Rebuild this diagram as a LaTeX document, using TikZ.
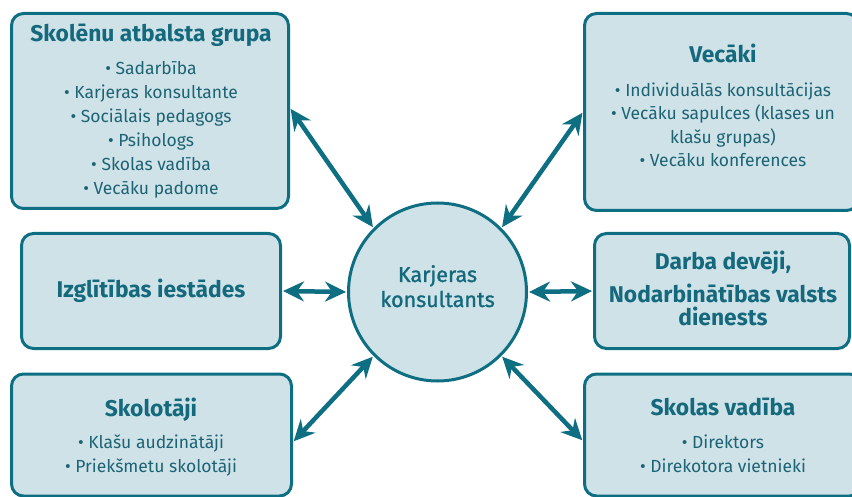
\documentclass[tikz,border=0pt]{standalone}
\usepackage{fontspec}
\setmainfont{Fira Sans}
\newfontfamily\medf{Fira Sans}[FakeBold=1.2]
\usetikzlibrary{arrows.meta}
\definecolor{bordc}{HTML}{0E6E82}
\definecolor{fillc}{HTML}{CFE2E8}
\definecolor{titc}{HTML}{15697D}
\definecolor{itc}{HTML}{1C6374}
\tikzset{
  box/.style={draw=bordc, line width=3pt, fill=fillc, rounded corners=12pt, inner sep=0pt},
  ttl/.style={anchor=base, text=titc, inner sep=0pt, font=\bfseries\fontsize{22.8}{26}\selectfont},
  itm/.style={anchor=base, text=itc, inner sep=0pt, font=\fontsize{17.5}{20}\selectfont},
  conn/.style={draw=bordc, line width=4.5pt, {Stealth[length=21pt,width=20pt,inset=7pt]}-{Stealth[length=21pt,width=20pt,inset=7pt]}, shorten <=1pt, shorten >=1pt}
}
\begin{document}
\begin{tikzpicture}[x=1pt,y=-1pt]
\useasboundingbox (0,0) rectangle (852,497);
% boxes
\node[box, minimum width=277pt, minimum height=195pt] (b1) at (150,111) {};
\node[box, minimum width=274pt, minimum height=197pt] (b2) at (721.5,112) {};
\node[box, minimum width=259pt, minimum height=115pt] (b3) at (151,291) {};
\node[box, minimum width=255pt, minimum height=115pt] (b4) at (722,291) {};
\node[box, minimum width=280pt, minimum height=122pt] (b5) at (151.5,435) {};
\node[box, minimum width=277pt, minimum height=122pt] (b6) at (723,435) {};
\node[draw=bordc, line width=3pt, fill=fillc, circle, minimum size=178pt, inner sep=0pt] (c) at (437.5,292) {};
% texts box1
\node[ttl] (b1t) at (151,42) {Skolēnu atbalsta grupa};
\node[itm] (b1a) at (151,75) {• Sadarbība};
\node[itm] (b1b) at (151,99) {• Karjeras konsultante};
\node[itm] (b1c) at (151,123) {• Sociālais pedagogs};
\node[itm] (b1d) at (151,147) {• Psihologs};
\node[itm] (b1e) at (151,171) {• Skolas vadība};
\node[itm] (b1f) at (151,195) {• Vecāku padome};
% box2
\node[ttl] (b2t) at (723,63) {Vecāki};
\node[itm] (b2a) at (723,97) {• Individuālās konsultācijas};
\node[itm] (b2b) at (723,120) {• Vecāku sapulces (klases un};
\node[itm] (b2c) at (723,144) {klašu grupas)};
\node[itm] (b2d) at (723,167) {• Vecāku konferences};
% box3
\node[ttl] (b3t) at (151,298) {Izglītības iestādes};
% box4
\node[ttl] (b4t) at (723,270) {Darba devēji,};
\node[ttl] (b4u) at (723,302) {Nodarbinātības valsts};
\node[ttl] (b4v) at (723,325) {dienests};
% box5
\node[ttl] (b5t) at (151,416) {Skolotāji};
\node[itm] (b5a) at (151,448) {• Klašu audzinātāji};
\node[itm] (b5b) at (151,472) {• Priekšmetu skolotāji};
% box6
\node[ttl] (b6t) at (723,415) {Skolas vadība};
\node[itm] (b6a) at (723,448) {• Direktors};
\node[itm] (b6b) at (723,472) {• Direkotora vietnieki};
% circle text
\node[anchor=base, text=titc, inner sep=0pt, font=\medf\fontsize{21.5}{25}\selectfont] (ct1) at (437.5,282) {Karjeras};
\node[anchor=base, text=titc, inner sep=0pt, font=\medf\fontsize{21.5}{25}\selectfont] (ct2) at (437.5,307) {konsultants};
% connectors
\draw[conn] ([yshift=3pt]b1.east) -- (c.135);
\draw[conn] (b2.west) -- (c.45);
\draw[conn] (b3.east) -- (c.west);
\draw[conn] (b4.west) -- (c.east);
\draw[conn] ([yshift=-7pt]b5.east) -- (c.225);
\draw[conn] ([yshift=-6pt]b6.west) -- (c.315);
\end{tikzpicture}
\end{document}
